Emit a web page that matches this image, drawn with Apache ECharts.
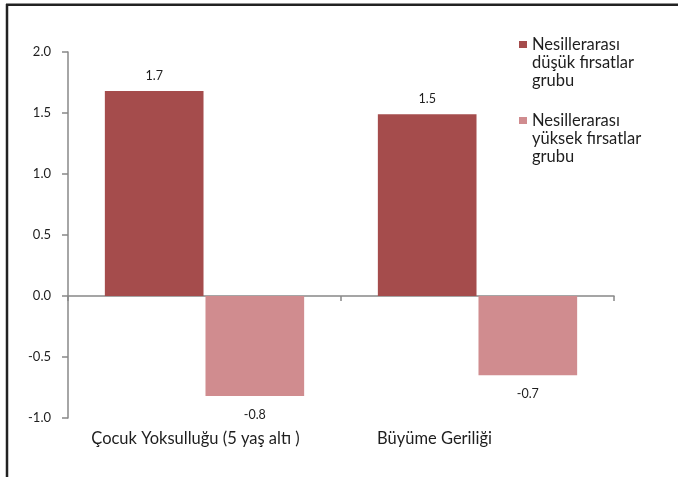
<!DOCTYPE html>
<html><head><meta charset="utf-8">
<script src="https://cdn.jsdelivr.net/npm/echarts@6/dist/echarts.min.js"></script>
<style>html,body{margin:0;padding:0;background:#fff}#c{width:678px;height:477px}</style>
</head><body><div id="c"></div>
<script>
const categories = ['Çocuk Yoksulluğu (5 yaş altı )', 'Büyüme Geriliği'];
const seriesNames = ['Nesillerarası\ndüşük fırsatlar\ngrubu', 'Nesillerarası\nyüksek fırsatlar\ngrubu'];
const lowOpportunity = [1.68, 1.49];
const highOpportunity = [-0.82, -0.65];
const yTicks = [-1.0, -0.5, 0.0, 0.5, 1.0, 1.5, 2.0];

const FONT = 'Lato, "Open Sans", sans-serif';
const labelShift = [18, 86];
const chart = echarts.init(document.getElementById('c'), null, {renderer: 'canvas'});
chart.setOption({
  animation: false,
  backgroundColor: '#fff',
  textStyle: {fontFamily: FONT},
  grid: {left: 68, right: 64, top: 52, bottom: 59, containLabel: false},
  legend: {
    orient: 'vertical', left: 519, top: 36, padding: 0,
    itemWidth: 8, itemHeight: 54, itemGap: 22,
    icon: 'path://M0,0L0,0Z M0,5L8,5L8,12L0,12Z M0,54L0,54Z',
    textStyle: {fontSize: 16.5, color: '#1e1e1e', lineHeight: 18, fontFamily: FONT},
    data: seriesNames
  },
  xAxis: [{
    type: 'category', data: categories,
    axisLine: {onZero: true, lineStyle: {color: '#888', width: 1.5}},
    axisTick: {show: true, length: 5, lineStyle: {color: '#888', width: 1.5}},
    axisLabel: {show: false}
  }, {
    type: 'category', position: 'bottom',
    data: categories.map((c, i) => ({value: c, textStyle: {padding: [0, labelShift[i], 0, 0]}})),
    axisLine: {show: false}, axisTick: {show: false},
    axisLabel: {show: true, fontSize: 16.5, color: '#1e1e1e', margin: 12, fontFamily: FONT}
  }],
  yAxis: {
    type: 'value', min: yTicks[0], max: yTicks[yTicks.length - 1], interval: 0.5,
    axisLine: {show: true, lineStyle: {color: '#888', width: 1.5}},
    axisTick: {show: true, length: 6, lineStyle: {color: '#888', width: 1.5}},
    splitLine: {show: false},
    axisLabel: {fontSize: 13, color: '#1e1e1e', margin: 17, formatter: v => v.toFixed(1)}
  },
  series: [{
    name: seriesNames[0], type: 'bar', data: lowOpportunity, xAxisIndex: 0,
    barCategoryGap: '27%', barGap: '2%',
    itemStyle: {color: '#A54C4C'},
    label: {show: true, position: 'top', distance: 9, fontSize: 12.5, color: '#1e1e1e', formatter: p => p.value.toFixed(1)}
  }, {
    name: seriesNames[1], type: 'bar', data: highOpportunity, xAxisIndex: 0,
    barCategoryGap: '27%', barGap: '2%',
    itemStyle: {color: '#D08C8F'},
    label: {show: true, position: 'bottom', distance: 12, fontSize: 12.5, color: '#1e1e1e', formatter: p => p.value.toFixed(1)}
  }],
  graphic: [
    {type: 'line', shape: {x1: 6, y1: 4.7, x2: 678, y2: 4.7}, style: {stroke: '#222', lineWidth: 2.5}},
    {type: 'line', shape: {x1: 7, y1: 4, x2: 7, y2: 477}, style: {stroke: '#222', lineWidth: 2.5}}
  ]
});
</script></body></html>
